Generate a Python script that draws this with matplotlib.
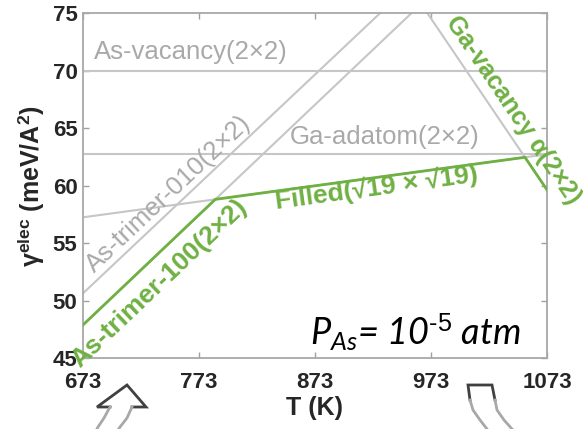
import numpy as np
import matplotlib
matplotlib.use("Agg")
import matplotlib.pyplot as plt
from matplotlib.patches import Polygon
from matplotlib.lines import Line2D

plt.rcParams["font.family"] = ["Liberation Sans", "DejaVu Sans"]
plt.rcParams["mathtext.fontset"] = "custom"
plt.rcParams["mathtext.rm"] = "Liberation Sans"
plt.rcParams["mathtext.bf"] = "Liberation Sans:bold"
plt.rcParams["mathtext.it"] = "Lato:italic"

# surface energy of each reconstruction, given at the two ends of the T range
T_ends = [673, 1073]
as_vacancy = [70.0, 70.0]
ga_adatom = [62.77, 62.77]
as_trimer_010 = [50.65, 88.7]
as_trimer_100 = [47.9, 86.2]
filled_19 = [57.26, 62.74]
ga_vacancy = [119.25, 59.65]

x_ticks = [673, 773, 873, 973, 1073]
y_ticks = [45, 50, 55, 60, 65, 70, 75]

GRAY = "#c6c6c6"
GRAY_TXT = "#a9a9a9"
GREEN = "#6fb043"

fig = plt.figure(figsize=(5.86, 4.29), dpi=100)
ax = fig.add_axes([83 / 586, 1 - 358.3 / 429, 464 / 586, 345 / 429])

T = np.linspace(T_ends[0], T_ends[1], 801)
lines = [as_vacancy, ga_adatom, as_trimer_010, as_trimer_100, filled_19, ga_vacancy]
curves = [np.interp(T, T_ends, v) for v in lines]
for c in curves:
    ax.plot(T, c, color=GRAY, lw=1.5, zorder=2)

# lowest-energy envelope in green
envelope = np.min(np.vstack(curves), axis=0)
ax.plot(T, envelope, color=GREEN, lw=2.0, zorder=3)

ax.set_xlim(673, 1073)
ax.set_ylim(45, 75)
ax.set_xticks(x_ticks)
ax.set_yticks(y_ticks)
ax.tick_params(direction="in", length=4, width=1, color="#a0a0a0",
               labelsize=16, labelcolor="#262626", top=True, right=True)
ax.tick_params(axis="x", pad=10)
ax.tick_params(axis="y", pad=4)
for lab in ax.get_xticklabels() + ax.get_yticklabels():
    lab.set_fontweight("bold")
for s in ax.spines.values():
    s.set_color("#a8a8a8")
    s.set_linewidth(1.3)

ax.set_xlabel("T (K)", fontsize=18, fontweight="bold", color="#262626", labelpad=2)
ax.set_ylabel("γ$^{\\mathbf{elec}}$ (meV/A$^{\\mathbf{2}}$)", fontsize=18,
              fontweight="bold", color="#262626", labelpad=4)


def screen_angle(v):
    p0 = ax.transData.transform((T_ends[0], v[0]))
    p1 = ax.transData.transform((T_ends[1], v[1]))
    return np.degrees(np.arctan2(p1[1] - p0[1], p1[0] - p0[0]))


ax.text(766, 71.65, "As-vacancy(2×2)", color=GRAY_TXT, fontsize=18.5,
        ha="center", va="center")
ax.text(933, 64.25, "Ga-adatom(2×2)", color=GRAY_TXT, fontsize=18.5,
        ha="center", va="center")
ax.text(747, 59.3, "As-trimer-010(2×2)", color=GRAY_TXT, fontsize=18.5,
        ha="center", va="center", rotation=screen_angle(as_trimer_010),
        rotation_mode="anchor")
ax.text(739, 51.5, "As-trimer-100(2×2)", color=GREEN, fontsize=19,
        fontweight="bold", ha="center", va="center",
        rotation=screen_angle(as_trimer_100), rotation_mode="anchor",
        clip_on=False)
ax.text(926, 59.8, "Filled(√19 × √19)", color=GREEN, fontsize=19,
        fontweight="bold", ha="center", va="center",
        rotation=screen_angle(filled_19), rotation_mode="anchor")
ax.text(1044, 66.6, "Ga-vacancy α(2×2)", color=GREEN, fontsize=18,
        fontweight="bold", ha="center", va="center",
        rotation=screen_angle(ga_vacancy), rotation_mode="anchor",
        clip_on=False)

ax.text(868.7, 46.16, "$\\mathit{P}_{\\mathit{As}}$= 10$^{\\mathit{\u20105}}$ atm",
        fontsize=26, family="Lato", style="italic", color="black",
        ha="left", va="baseline")


# hollow block arrows below the axis (figure pixels, origin top-left)
def fig_pts(pts):
    return [(px / 586, 1 - py / 429) for px, py in pts]


def draw_outline(pts, color, lw):
    xy = np.array(fig_pts(pts))
    fig.lines.append(Line2D(xy[:, 0], xy[:, 1], transform=fig.transFigure,
                            color=color, lw=lw, solid_joinstyle="miter"))


# up-pointing arrow near the low-T end
up_head = [(110, 407), (97, 407), (127, 385), (146, 407), (132, 407)]
up_left = [(110, 407), (104, 418), (98, 427), (93, 436)]
up_right = [(132, 407), (127, 418), (120, 427), (114, 436)]
fig.patches.append(Polygon(fig_pts(up_head + up_right[1:] + up_left[::-1][:-1]),
                           closed=True, transform=fig.transFigure,
                           facecolor="white", edgecolor="none"))
draw_outline(up_head, "#404040", 2.0)
draw_outline(up_left, "#a8a8a8", 2.0)
draw_outline(up_right, "#a8a8a8", 2.0)

# curved tail of an arrow leaving the high-T end
tail_top = [(470, 400), (468, 385), (492, 385), (495, 400)]
tail_left = [(470, 400), (473, 410), (480, 420), (487, 429), (492, 436)]
tail_right = [(495, 400), (497, 410), (504, 420), (512, 429), (518, 436)]
fig.patches.append(Polygon(fig_pts(tail_top + tail_right[1:] + tail_left[::-1][:-1]),
                           closed=True, transform=fig.transFigure,
                           facecolor="white", edgecolor="none"))
draw_outline(tail_top, "#404040", 2.0)
draw_outline(tail_left, "#a8a8a8", 2.0)
draw_outline(tail_right, "#a8a8a8", 2.0)

fig.savefig("out.png", dpi=100)
